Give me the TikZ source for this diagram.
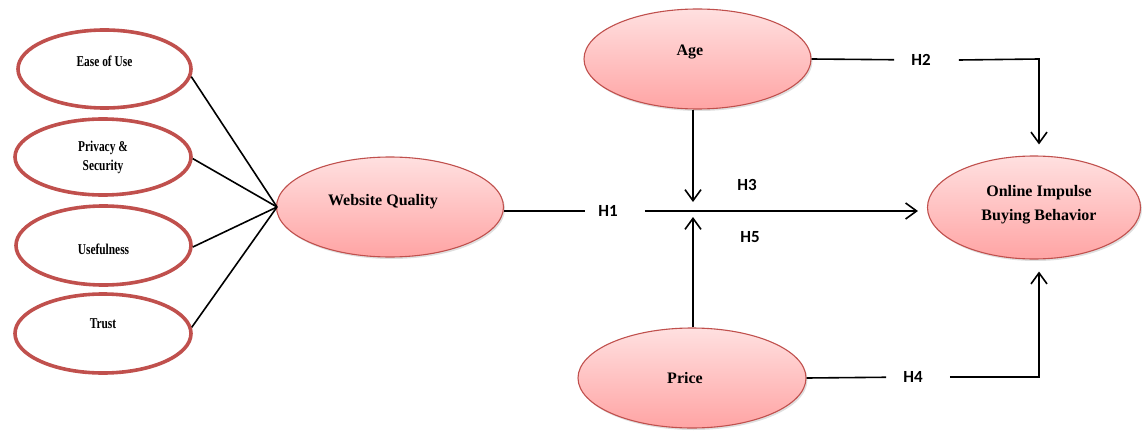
\documentclass[tikz,border=0pt]{standalone}
\usepackage{fontspec}
\setmainfont{Liberation Serif}
\newfontfamily\condfont[FakeStretch=0.76]{Liberation Serif}
\newfontfamily\hfont{Carlito}
\usetikzlibrary{shapes.geometric,arrows.meta,shadows}
\definecolor{rimred}{RGB}{192,80,77}
\definecolor{pinktop}{RGB}{255,224,224}
\definecolor{pinkbot}{RGB}{255,164,164}
\begin{document}
\begin{tikzpicture}[x=1pt,y=-1pt,
  small/.style={ellipse, draw=rimred, line width=3.6pt, fill=white, inner sep=0pt},
  big/.style={ellipse, draw=rimred, line width=1.1pt, top color=pinktop, bottom color=pinkbot, inner sep=0pt,
    drop shadow={opacity=0.25,shadow xshift=1.5pt,shadow yshift=-2pt}},
  stxt/.style={font=\condfont\bfseries\fontsize{15}{19}\selectfont, align=center, inner sep=0pt},
  btxt/.style={font=\bfseries\fontsize{16}{24}\selectfont, align=center, inner sep=0pt},
  hyp/.style={font=\hfont\bfseries\fontsize{17}{19}\selectfont, inner sep=0pt},
  ln/.style={line width=1.6pt, black},
  arr/.style={ln, -{Straight Barb[length=11pt,width=16pt]}},
]
\useasboundingbox (0,0) rectangle (1142,433);

% left construct ellipses
\node[small, minimum width=173pt, minimum height=78pt] (ease) at (104.5,69) {};
\node[stxt] (easeT) at (104.5,61) {Ease of Use};
\node[small, minimum width=176pt, minimum height=76pt] (priv) at (103,157) {};
\node[stxt] (privT) at (103,157) {Privacy \&\\Security};
\node[small, minimum width=175pt, minimum height=79pt] (usef) at (103.5,245.5) {};
\node[stxt] (usefT) at (103.5,249) {Usefulness};
\node[small, minimum width=176pt, minimum height=79pt] (trust) at (103,333.5) {};
\node[stxt] (trustT) at (103,324) {Trust};

% main ellipses
\node[big, minimum width=227pt, minimum height=100pt] (wq) at (390,207) {};
\node[btxt] (wqT) at (383,202) {Website Quality};
\node[big, minimum width=227pt, minimum height=100pt] (age) at (697.5,59) {};
\node[btxt] (ageT) at (690,52) {Age};
\node[big, minimum width=228pt, minimum height=100pt] (price) at (692,378) {};
\node[btxt] (priceT) at (685,378) {Price};
\node[big, minimum width=213pt, minimum height=103pt] (online) at (1034,207.5) {};
\node[btxt] (onlineT) at (1039,205) {Online Impulse\\Buying Behavior};

% hypothesis labels
\node[hyp] (h1) at (608,211) {H1};
\node[hyp] (h2) at (921,60) {H2};
\node[hyp] (h3) at (747,185) {H3};
\node[hyp] (h4) at (913,377) {H4};
\node[hyp] (h5) at (750,237) {H5};

% junction and corner coordinates
\coordinate (hub) at (277,207);
\coordinate (jn) at (693,211);
\coordinate (c2) at (1039,59);
\coordinate (c4) at (1039,377);

% indicators to website quality
\draw[ln] (ease.-5) -- (hub);
\draw[ln] (priv.-1) -- (hub);
\draw[ln] (usef.-1) -- (hub);
\draw[ln] (trust.4) -- (hub);

% H1
\draw[ln, shorten >=13pt] (wq.east |- jn) -- (h1);
\draw[arr, shorten <=27pt, shorten >=9pt] (h1) -- (online.west |- jn);

% H3 and H5 moderators
\draw[arr, shorten >=9pt] (age.south -| jn) -- (jn);
\draw[arr, shorten >=6pt] (price.north -| jn) -- (jn);

% H2
\draw[ln, shorten >=17pt] (age.east) -- (h2);
\draw[arr, shorten >=11pt] ([xshift=28pt]h2.east) -- (c2) -- (c2 |- online.north);

% H4
\draw[ln, shorten >=17pt] (price.east) -- (h4);
\draw[arr, shorten >=12pt] ([xshift=27pt]h4.east) -- (c4) -- (c4 |- online.south);
\end{tikzpicture}
\end{document}
